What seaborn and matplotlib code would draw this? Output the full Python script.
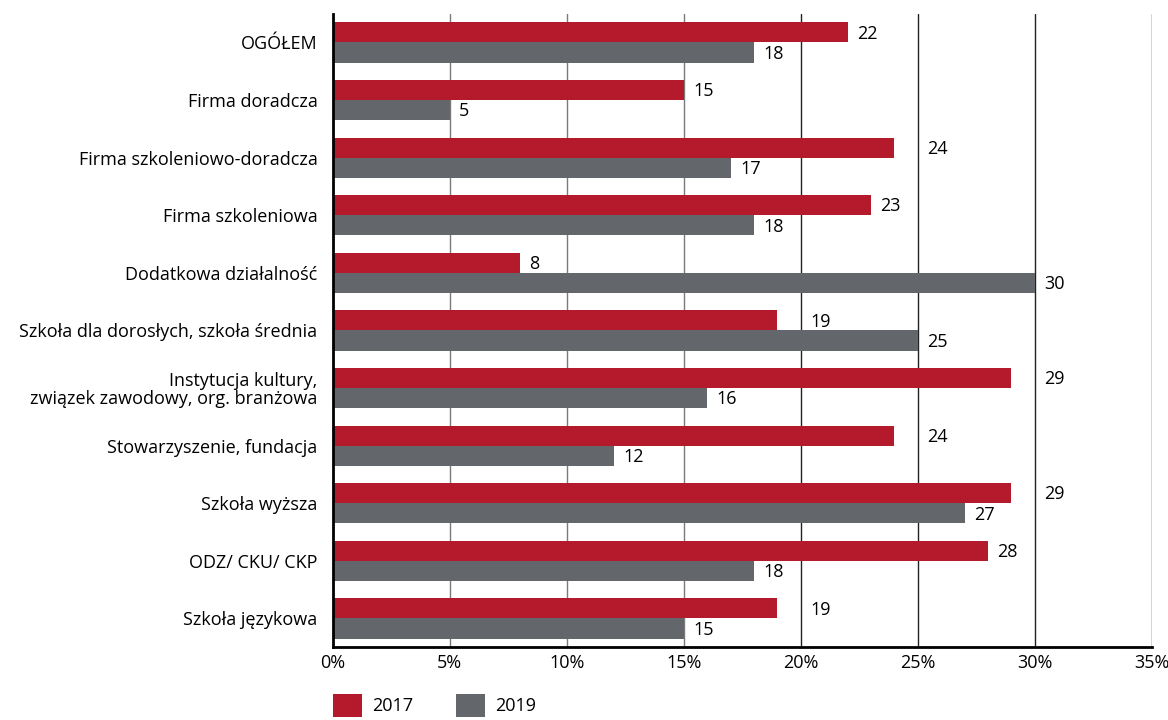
import pandas as pd
import numpy as np
import matplotlib.pyplot as plt
import seaborn as sns
from matplotlib.patches import Patch

# data
kategorie = ['OGÓŁEM', 'Firma doradcza', 'Firma szkoleniowo-doradcza', 'Firma szkoleniowa',
             'Dodatkowa działalność', 'Szkoła dla dorosłych, szkoła średnia',
             'Instytucja kultury,\nzwiązek zawodowy, org. branżowa',
             'Stowarzyszenie, fundacja', 'Szkoła wyższa', 'ODZ/ CKU/ CKP', 'Szkoła językowa']
v2017 = [22, 15, 24, 23, 8, 19, 29, 24, 29, 28, 19]
v2019 = [18, 5, 17, 18, 30, 25, 16, 12, 27, 18, 15]
lata = ['2017', '2019']
kolory = ['#B41A2C', '#63666A']
xticks = [0, 5, 10, 15, 20, 25, 30, 35]

df = pd.DataFrame({
    'kategoria': kategorie * 2,
    'wartosc': v2017 + v2019,
    'rok': [lata[0]] * len(kategorie) + [lata[1]] * len(kategorie),
})

sns.set_style('white')
plt.rcParams['font.family'] = ['Open Sans', 'DejaVu Sans']
plt.rcParams['text.color'] = 'black'
plt.rcParams['xtick.color'] = 'black'
plt.rcParams['ytick.color'] = 'black'
FS = 13

fig = plt.figure(figsize=(11.68, 7.2), dpi=100)
ax = fig.add_axes([0.285, 0.101, 0.701, 0.880])

sns.barplot(data=df, y='kategoria', x='wartosc', hue='rok', palette=kolory,
            width=0.7, orient='h', ax=ax, legend=False, saturation=1, linewidth=0)

# value labels: pushed past a gridline when they would sit on it
off = 0.4
szer = 1.1
for c in ax.containers:
    for p in c:
        v = p.get_width()
        x = v + off
        for g in xticks[1:]:
            if v < g < v + off + szer:
                x = g + off
        ax.text(x, p.get_y() + p.get_height() / 2 + 0.02, f'{v:.0f}',
                va='center', ha='left', fontsize=FS)

ax.set_xlim(0, 35)
ax.set_ylim(len(kategorie) - 0.5, -0.5)
ax.set_xticks(xticks)
ax.set_xticklabels([f'{t}%' for t in xticks], fontsize=FS)
ax.tick_params(axis='y', labelsize=FS, length=0, pad=11)
ax.tick_params(axis='x', length=0, pad=5)
for lbl in ax.get_yticklabels():
    lbl.set_horizontalalignment('right')
    lbl.set_multialignment('right')
    lbl.set_linespacing(1.0)
ax.set_xlabel('')
ax.set_ylabel('')
ax.grid(False)
for t in xticks[1:]:
    ax.axvline(t, color='#7a7a7a' if t <= 15 else '#222222', linewidth=1, zorder=0)

for s in ['top', 'right']:
    ax.spines[s].set_visible(False)
for s in ['left', 'bottom']:
    ax.spines[s].set_color('black')
    ax.spines[s].set_linewidth(2)

handles = [Patch(facecolor=k, edgecolor='none') for k in kolory]
fig.legend(handles, lata, loc='lower left', bbox_to_anchor=(333 / 1168, 0.004), ncol=2,
           frameon=False, fontsize=FS, handlelength=1.6, handleheight=1.6,
           columnspacing=2.4, handletextpad=0.55, borderpad=0, borderaxespad=0)

plt.savefig('out.png', dpi=100)
